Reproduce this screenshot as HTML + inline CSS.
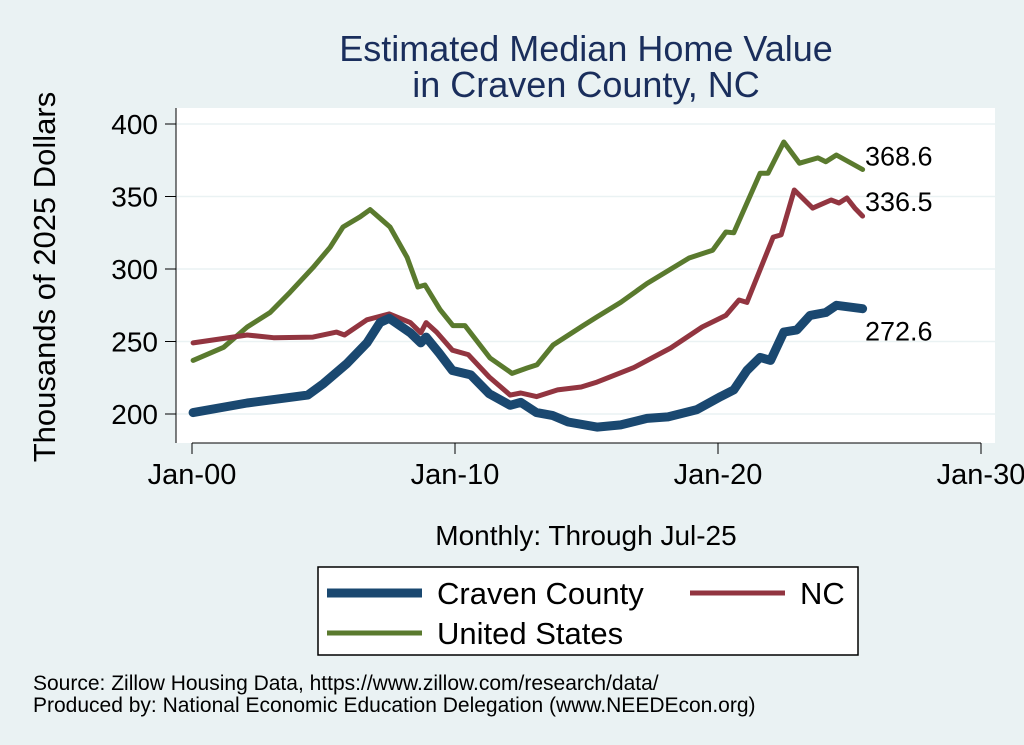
<!DOCTYPE html>
<html><head><meta charset="utf-8"><style>
body{margin:0;width:1024px;height:745px;background:#eaf2f3;font-family:"Liberation Sans",sans-serif;overflow:hidden}
</style></head><body>
<svg id="c" width="1024" height="745" style="position:absolute;left:0;top:0">
<rect x="176" y="108" width="819" height="335" fill="#fff"/>
<text x="586" y="61" text-anchor="middle" font-size="36" fill="#1a2e5c">Estimated Median Home Value</text>
<text x="586" y="97" text-anchor="middle" font-size="36" fill="#1a2e5c">in Craven County, NC</text>
<text transform="translate(55,277) rotate(-90)" text-anchor="middle" font-size="31" fill="#000">Thousands of 2025 Dollars</text>
<text x="586" y="545" text-anchor="middle" font-size="28" fill="#000">Monthly: Through Jul-25</text>
<g id="grid"></g><g id="axes"></g><g id="series"></g>
<rect x="318" y="567" width="540" height="88" fill="#fff" stroke="#000" stroke-width="1.5"/>
<g><line x1="327" y1="593" x2="422" y2="593" stroke="#1a4870" stroke-width="9"/><text x="437" y="604" font-size="31">Craven County</text></g>
<g><line x1="690" y1="593" x2="785" y2="593" stroke="#923540" stroke-width="5"/><text x="800" y="604" font-size="31">NC</text></g>
<g><line x1="327" y1="633" x2="422" y2="633" stroke="#5a7a2e" stroke-width="5"/><text x="437" y="644" font-size="31">United States</text></g>
<text x="33" y="690" font-size="21">Source: Zillow Housing Data, https://www.zillow.com/research/data/</text>
<text x="33" y="712" font-size="21">Produced by: National Economic Education Delegation (www.NEEDEcon.org)</text>
</svg>
<script>
const yTicks=[200,250,300,350,400];
const xTickYears=[0,10,20,30];
const xTickLabels=["Jan-00","Jan-10","Jan-20","Jan-30"];
const cravenYears=[0.04,2.1,4.4,5.0,5.9,6.65,7.15,7.5,8.3,8.7,8.9,9.4,9.9,10.6,11.3,12.1,12.5,13.1,13.7,14.3,15.4,16.3,17.3,18.1,19.2,20.1,20.6,21.1,21.6,22.0,22.5,23.0,23.5,24.1,24.5,25.5];
const cravenValues=[201,207.6,213,221,235,249,263,266,256,249,253,242,230,227,214,206,208,201,199,194.5,191,192.5,197,198,203,212,216.6,230,239,237,256.5,258,268,270,275,272.6];
const ncYears=[0.04,2.1,3.1,4.6,5.5,5.8,6.65,7.5,8.3,8.7,8.9,9.3,9.9,10.5,11.3,12.1,12.5,13.1,13.9,14.8,15.4,16.8,18.2,19.4,20.3,20.8,21.1,22.1,22.4,22.9,23.6,24.3,24.6,24.9,25.2,25.5];
const ncValues=[249,254.5,252.6,253,256.5,254.5,265,269,263,256,263,256.5,244,241,225.5,213,214.5,212,216.6,218.6,222,232,245.5,260,268,278.6,277,322,323.5,354.5,342,347.6,345.5,349,342,336.5];
const usYears=[0.04,1.2,2.1,2.97,3.73,4.6,5.25,5.74,6.39,6.77,7.53,8.18,8.59,8.86,9.43,9.92,10.38,11.33,12.17,12.74,13.12,13.73,14.87,15.4,16.3,17.3,18.9,19.8,20.3,20.6,21.6,21.9,22.5,23.1,23.8,24.1,24.5,25.5];
const usValues=[237,246,260,270,284,301,315,329,336,341,329,308,287.6,289,272,261,261,238.6,228,231.7,234,247.6,261,267,277,290,307.6,313,325.5,325,366,366,387.6,373,376.6,374,378.6,368.6];
const X0=192,PXY=26.3;
function xs(t){return X0+t*PXY}
function ys(v){return 414-(v-200)*1.45}
const NS="http://www.w3.org/2000/svg";
function mk(tag,attrs,parent){const e=document.createElementNS(NS,tag);for(const k in attrs)e.setAttribute(k,attrs[k]);parent.appendChild(e);return e}
const grid=document.getElementById('grid'),axes=document.getElementById('axes'),ser=document.getElementById('series');
yTicks.forEach(v=>{
 const g=mk('line',{x1:176,x2:995,y1:ys(v),y2:ys(v),stroke:'#eaf2f3','stroke-width':1.5},grid);
 
 
 const tk=mk('line',{x1:165,x2:176,y1:ys(v),y2:ys(v),stroke:'#000','stroke-width':1},axes);
 
 
 const t=mk('text',{x:158,y:ys(v)+10,'text-anchor':'end','font-size':28},axes);
 t.textContent=v;
 
 
});
const ya=mk('line',{x1:176,x2:176,y1:108,y2:443,stroke:'#000','stroke-width':1},axes);


const xa=mk('line',{x1:xs(0),x2:xs(30),y1:443,y2:443,stroke:'#000','stroke-width':1},axes);


xTickYears.forEach((yr,i)=>{
 const tk=mk('line',{x1:xs(yr),x2:xs(yr),y1:443,y2:454,stroke:'#000','stroke-width':1},axes);
 
 
 const t=mk('text',{x:xs(yr),y:484,'text-anchor':'middle','font-size':29},axes);
 t.textContent=xTickLabels[i];
 
 
});
function line(yrs,vals,col,w,name){
 const d=yrs.map((t,i)=>(i?'L':'M')+xs(t).toFixed(1)+','+ys(vals[i]).toFixed(1)).join('');
 const p=mk('path',{d:d,fill:'none',stroke:col,'stroke-width':w,'stroke-linejoin':'round','stroke-linecap':'round'},ser);
 
 
 const last=vals[vals.length-1];
 return [xs(yrs[yrs.length-1]),ys(last),last];
}
const a=line(usYears,usValues,'#5a7a2e',5,'line-united-states');
const b=line(ncYears,ncValues,'#923540',5,'line-nc');
const c=line(cravenYears,cravenValues,'#1a4870',9,'line-craven-county');
[[a,-4,'label-us-last'],[b,-5,'label-nc-last'],[c,32,'label-craven-last']].forEach(([p,dy,n])=>{
 const t=mk('text',{x:865,y:p[1]+dy,'font-size':27},ser);
 t.textContent=p[2].toFixed(1);
 
 
});
</script>
</body></html>
